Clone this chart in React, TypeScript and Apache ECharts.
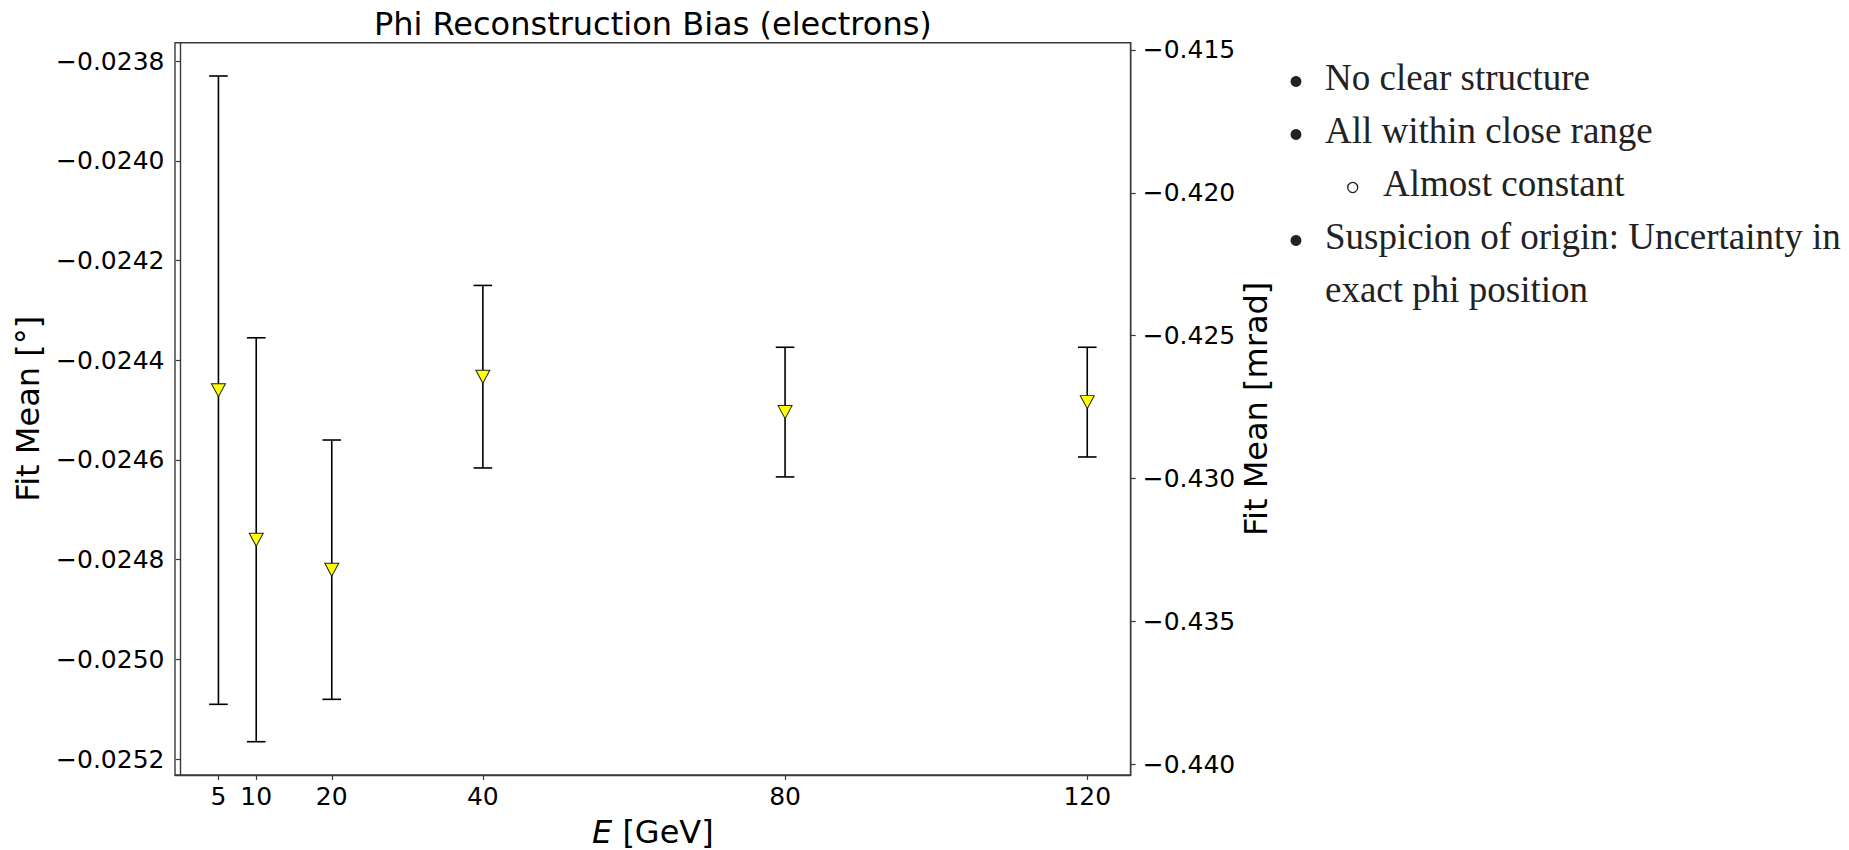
import React, { useEffect, useRef } from "react";
import * as echarts from "echarts";

// Beam energies [GeV] and fitted phi bias (degrees) with symmetric uncertainties
const energies = [5, 10, 20, 40, 80, 120];
const fitMeans = [-0.02446, -0.02476, -0.02482, -0.024433, -0.024504, -0.024484];
const fitErrors = [0.00063, 0.000405, 0.00026, 0.000183, 0.00013, 0.00011];

// Tick positions
const xTicks = [5, 10, 20, 40, 80, 120];
const yTicksDeg = [-0.0238, -0.024, -0.0242, -0.0244, -0.0246, -0.0248, -0.025, -0.0252];
const yTicksMrad = [-0.415, -0.42, -0.425, -0.43, -0.435, -0.44];

// Notes shown next to the plot
const noteLines = [
  { text: "No clear structure", marker: "disc", indent: 0 },
  { text: "All within close range", marker: "disc", indent: 0 },
  { text: "Almost constant", marker: "circle", indent: 1 },
  { text: "Suspicion of origin: Uncertainty in", marker: "disc", indent: 0 },
  { text: "exact phi position", marker: "none", indent: 0 },
];

const DEG_TO_MRAD = (Math.PI / 180) * 1000;
const MINUS = "\u2212";

function paddedRange(lo: number, hi: number, frac = 0.05): [number, number] {
  const pad = (hi - lo) * frac;
  return [lo - pad, hi + pad];
}

export default function App() {
  const ref = useRef<HTMLDivElement>(null);

  useEffect(() => {
    if (!ref.current) return;
    const chart = echarts.init(ref.current, null, { renderer: "svg" });

    const lows = fitMeans.map((m, i) => m - fitErrors[i]);
    const highs = fitMeans.map((m, i) => m + fitErrors[i]);
    const [yMin, yMax] = paddedRange(Math.min(...lows), Math.max(...highs));
    const [xMin, xMax] = paddedRange(Math.min(...energies), Math.max(...energies));

    const gridLeft = 175;
    const gridTop = 42.7;
    const gridWidth = 955.7;
    const gridHeight = 732.3;
    const cx = gridLeft + gridWidth / 2;
    const cy = gridTop + gridHeight / 2;

    const sansFont = "DejaVu Sans";
    const serifFont = "Liberation Serif";
    const noteColor = "#222222";

    const noteBaseline0 = 90;
    const noteStep = 53;
    const noteSize = 37;
    const noteGraphics: any[] = [];
    noteLines.forEach((ln, i) => {
      const baseline = noteBaseline0 + i * noteStep;
      const textX = ln.indent ? 1383 : 1325;
      noteGraphics.push({
        type: "text",
        x: textX,
        y: baseline - 0.3375 * noteSize,
        silent: true,
        style: {
          text: ln.text,
          font: `${noteSize}px "${serifFont}"`,
          fill: noteColor,
          align: "left",
          verticalAlign: "middle",
        },
      });
      const dotY = baseline - 8.5;
      if (ln.marker === "disc") {
        noteGraphics.push({
          type: "circle",
          silent: true,
          shape: { cx: 1296, cy: dotY, r: 5.4 },
          style: { fill: noteColor },
        });
      } else if (ln.marker === "circle") {
        noteGraphics.push({
          type: "circle",
          silent: true,
          shape: { cx: 1352.7, cy: dotY, r: 5 },
          style: { fill: "none", stroke: noteColor, lineWidth: 1.3 },
        });
      }
    });

    const capHalf = 9.3;
    const barStyle = { stroke: "#000", lineWidth: 1.6 };

    chart.setOption({
      animation: false,
      backgroundColor: "#ffffff",
      grid: {
        left: gridLeft,
        top: gridTop,
        width: gridWidth,
        height: gridHeight,
        show: true,
        borderColor: "#3a3a3a",
        borderWidth: 1.4,
        backgroundColor: "transparent",
      },
      xAxis: {
        type: "value",
        min: xMin,
        max: xMax,
        splitLine: { show: false },
        axisLine: { show: true, onZero: false, lineStyle: { color: "#3a3a3a", width: 1.4 } },
        axisTick: {
          show: true,
          length: 5,
          customValues: xTicks,
          lineStyle: { color: "#3a3a3a", width: 1.2 },
        },
        axisLabel: {
          customValues: xTicks,
          margin: 9,
          fontFamily: sansFont,
          fontSize: 25,
          color: "#000",
          formatter: (v: number) => String(v),
        },
      },
      yAxis: [
        {
          type: "value",
          min: yMin,
          max: yMax,
          position: "left",
          splitLine: { show: false },
          axisLine: { show: true, lineStyle: { color: "#3a3a3a", width: 1.4 } },
          axisTick: {
            show: true,
            length: 5,
            customValues: yTicksDeg,
            lineStyle: { color: "#3a3a3a", width: 1.2 },
          },
          axisLabel: {
            customValues: yTicksDeg,
            margin: 10.5,
            fontFamily: sansFont,
            fontSize: 25,
            color: "#000",
            formatter: (v: number) => (v < 0 ? MINUS : "") + Math.abs(v).toFixed(4),
          },
        },
        {
          type: "value",
          min: yMin * DEG_TO_MRAD,
          max: yMax * DEG_TO_MRAD,
          position: "right",
          splitLine: { show: false },
          axisLine: { show: true, lineStyle: { color: "#3a3a3a", width: 1.4 } },
          axisTick: {
            show: true,
            length: 5,
            customValues: yTicksMrad,
            lineStyle: { color: "#3a3a3a", width: 1.2 },
          },
          axisLabel: {
            customValues: yTicksMrad,
            margin: 12,
            fontFamily: sansFont,
            fontSize: 25,
            color: "#000",
            formatter: (v: number) => (v < 0 ? MINUS : "") + Math.abs(v).toFixed(3),
          },
        },
      ],
      series: [
        {
          type: "custom",
          silent: true,
          xAxisIndex: 0,
          yAxisIndex: 0,
          encode: { x: 0, y: [1, 2] },
          data: energies.map((e, i) => [e, lows[i], highs[i]]),
          renderItem: (_params: any, api: any) => {
            const x = api.value(0);
            const pLo = api.coord([x, api.value(1)]);
            const pHi = api.coord([x, api.value(2)]);
            return {
              type: "group",
              children: [
                {
                  type: "line",
                  shape: { x1: pLo[0], y1: pLo[1], x2: pHi[0], y2: pHi[1] },
                  style: barStyle,
                },
                {
                  type: "line",
                  shape: { x1: pHi[0] - capHalf, y1: pHi[1], x2: pHi[0] + capHalf, y2: pHi[1] },
                  style: barStyle,
                },
                {
                  type: "line",
                  shape: { x1: pLo[0] - capHalf, y1: pLo[1], x2: pLo[0] + capHalf, y2: pLo[1] },
                  style: barStyle,
                },
              ],
            };
          },
          z: 2,
        },
        {
          type: "scatter",
          silent: true,
          xAxisIndex: 0,
          yAxisIndex: 0,
          symbol: "triangle",
          symbolRotate: 180,
          symbolSize: [14, 13],
          itemStyle: { color: "#ffff00", borderColor: "#222", borderWidth: 1, opacity: 1 },
          data: energies.map((e, i) => [e, fitMeans[i]]),
          z: 3,
        },
      ],
      graphic: [
        {
          type: "text",
          x: cx,
          y: 24,
          silent: true,
          style: {
            text: "Phi Reconstruction Bias (electrons)",
            font: `32px "${sansFont}"`,
            fill: "#000",
            align: "center",
            verticalAlign: "middle",
          },
        },
        {
          type: "text",
          x: 28,
          y: cy,
          rotation: Math.PI / 2,
          silent: true,
          style: {
            text: "Fit Mean [\u00b0]",
            font: `32px "${sansFont}"`,
            fill: "#000",
            align: "center",
            verticalAlign: "middle",
          },
        },
        {
          type: "text",
          x: 1255.7,
          y: cy,
          rotation: Math.PI / 2,
          silent: true,
          style: {
            text: "Fit Mean [mrad]",
            font: `32px "${sansFont}"`,
            fill: "#000",
            align: "center",
            verticalAlign: "middle",
          },
        },
        {
          type: "text",
          x: cx,
          y: 832.3,
          silent: true,
          style: {
            text: "{i|E} [GeV]",
            font: `32px "${sansFont}"`,
            fill: "#000",
            align: "center",
            verticalAlign: "middle",
            rich: {
              i: {
                fontStyle: "italic",
                fontFamily: sansFont,
                fontSize: 32,
                fill: "#000",
              },
            },
          },
        },
        ...noteGraphics,
      ],
    });

    return () => {
      chart.dispose();
    };
  }, []);

  return (
    <div
      ref={ref}
      style={{ position: "absolute", left: 0, top: 0, width: 1849, height: 850, background: "#fff" }}
    />
  );
}
